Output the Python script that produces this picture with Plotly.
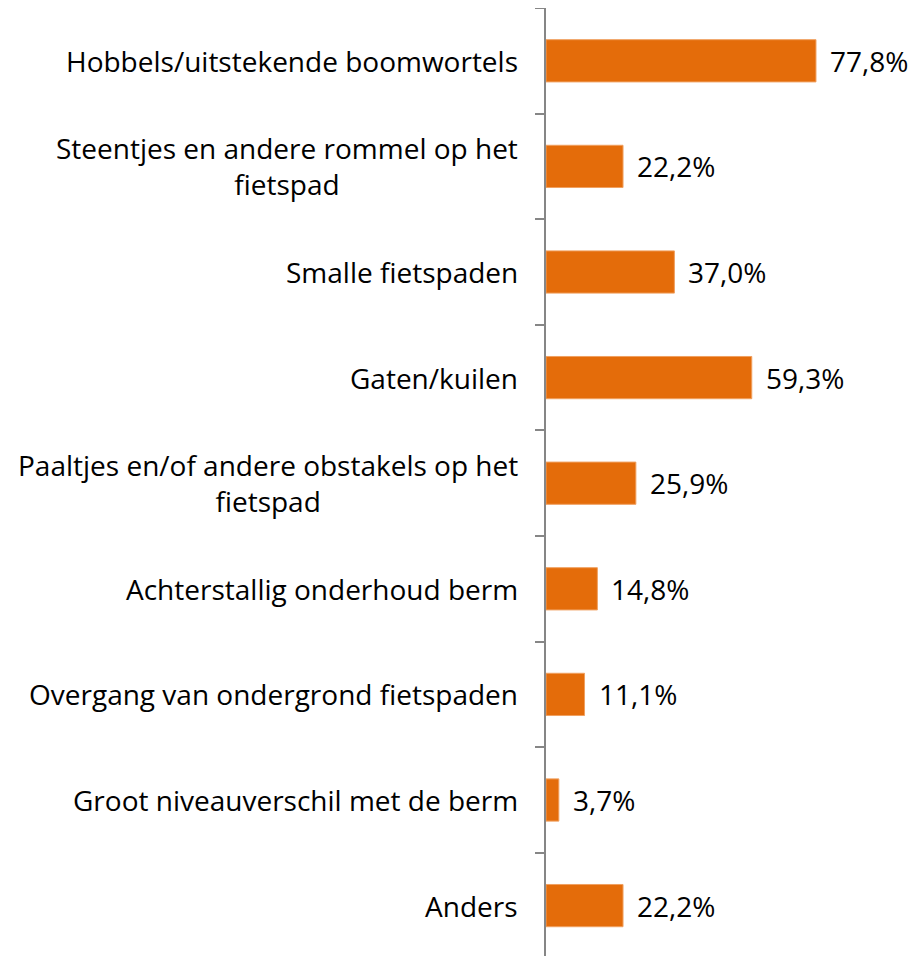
import plotly.graph_objects as go

categories = [
    "Hobbels/uitstekende boomwortels",
    "Steentjes en andere rommel op het<br>fietspad",
    "Smalle fietspaden",
    "Gaten/kuilen",
    "Paaltjes en/of andere obstakels op het<br>fietspad",
    "Achterstallig onderhoud berm",
    "Overgang van ondergrond fietspaden",
    "Groot niveauverschil met de berm",
    "Anders",
]
values = [77.8, 22.2, 37.0, 59.3, 25.9, 14.8, 11.1, 3.7, 22.2]

FONT = "Open Sans"
SIZE = 28
idx = list(range(len(categories)))

fig = go.Figure(
    go.Bar(
        x=values,
        y=idx,
        orientation="h",
        width=0.4,
        marker=dict(color="#E46C0A", line=dict(color="#F0A060", width=1)),
        hoverinfo="skip",
    )
)

# category labels, multi-line ones centred line by line
for i, cat in enumerate(categories):
    fig.add_annotation(
        x=0, xref="paper", y=i, yref="y", text=cat, showarrow=False,
        xanchor="right", yanchor="middle", align="center", xshift=-26,
        font=dict(family=FONT, size=SIZE, color="black"),
    )

# value labels
for i, v in enumerate(values):
    fig.add_annotation(
        x=v, y=i, text=f"{v:.1f}%".replace(".", ","), showarrow=False,
        xanchor="left", yanchor="middle", xshift=12,
        font=dict(family=FONT, size=SIZE, color="black"),
    )

fig.update_layout(
    width=910, height=948,
    margin=dict(l=538, r=25, t=0, b=0),
    plot_bgcolor="white", paper_bgcolor="white",
    showlegend=False,
)
fig.update_xaxes(range=[0, 100], visible=False)
fig.update_yaxes(
    range=[len(categories) - 0.5 + (948 / 105.6 - len(categories)), -0.5],
    tickmode="array", tickvals=[i - 0.5 for i in idx] + [len(idx) - 0.5],
    showticklabels=False, ticks="outside", ticklen=9, tickwidth=1.5,
    tickcolor="#868686", showline=True, linecolor="#868686", linewidth=1.5,
    showgrid=False, zeroline=False,
)

fig.write_html("out.html")
